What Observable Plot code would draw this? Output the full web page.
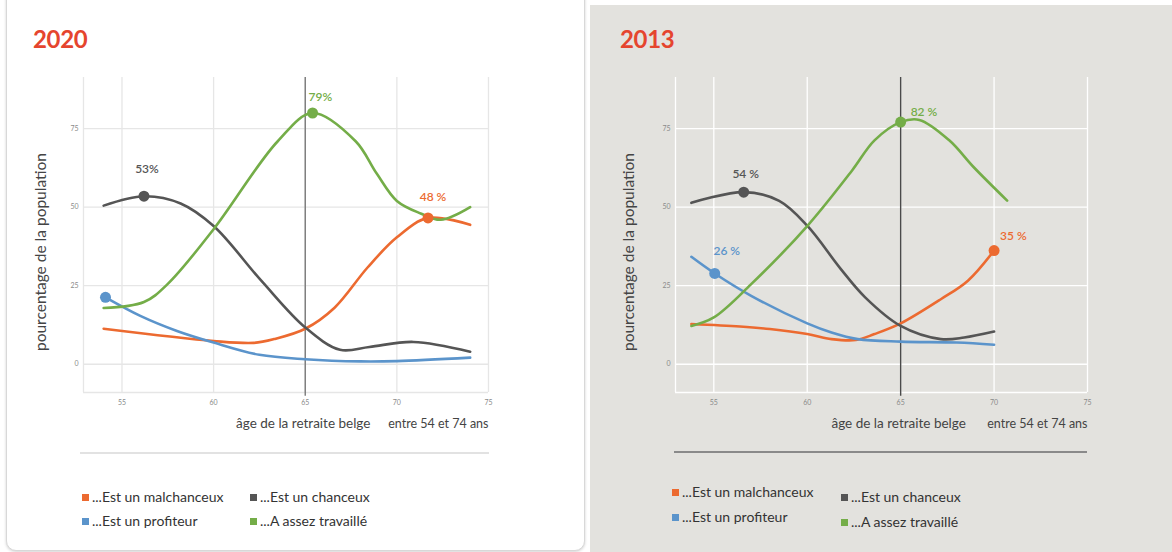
<!DOCTYPE html>
<html><head><meta charset="utf-8">
<script src="https://cdn.jsdelivr.net/npm/d3@7"></script>
<script src="https://cdn.jsdelivr.net/npm/@observablehq/plot@0.6"></script>
<style>
html,body{margin:0;padding:0;background:#fff;}
body{width:1172px;height:552px;position:relative;overflow:hidden;font-family:Lato,"Open Sans",sans-serif;}
.card{position:absolute;left:6px;top:-12px;width:577px;height:561px;border:1px solid #d8d8d8;border-radius:10px;box-shadow:0 1px 3px rgba(0,0,0,0.18);background:#fff;}
.gray{position:absolute;left:590px;top:5px;width:582px;height:547px;background:#e3e2de;}
.title{position:absolute;font-size:24px;font-weight:700;color:#e5452e;letter-spacing:-0.3px;}
.plotbox{position:absolute;top:60px;}
.sep{position:absolute;height:0;}
.leg{position:absolute;font-size:14px;color:#333;white-space:nowrap;}
.leg i{display:inline-block;width:7px;height:7px;margin-right:3px;vertical-align:1px;}
</style></head>
<body>
<div class="card"></div>
<div class="gray"></div>
<div id="root"></div>
<script>
// ---- series names & colours ----
const seriesNames = ["...Est un malchanceux", "...Est un chanceux", "...Est un profiteur", "...A assez travaillé"];
const seriesColors = ["#ec6a30", "#555555", "#5b94cb", "#74ad48"];
const xTicks = [55, 60, 65, 70, 75];
const yTicks = [0, 25, 50, 75];
const retirementAge = 65;
const xAxisLabel = "âge de la retraite belge";
const xRangeLabel = "entre 54 et 74 ans";
const yAxisLabel = "pourcentage de la population";

// ---- 2020 ----
const malch2020Age = [54, 60, 62.2, 63.3, 65, 66.6, 68.4, 70, 71.7, 74];
const malch2020Val = [11.3, 7.4, 6.8, 8, 11.3, 18, 30.8, 40.4, 46.6, 44.4];
const chanc2020Age = [54, 56.2, 58.2, 60, 62.6, 65, 66.9, 68.5, 70.9, 74];
const chanc2020Val = [50.5, 53.5, 51.2, 44, 26.6, 11.7, 4.6, 5.5, 7.1, 4];
const prof2020Age = [54.1, 56, 58, 60, 62.5, 65, 68, 70, 74];
const prof2020Val = [21.3, 15.4, 10.6, 6.9, 3, 1.6, 0.9, 1, 2.1];
const trav2020Age = [54, 56.2, 57.5, 60, 63.5, 65.4, 67.75, 68.9, 70, 71.3, 72.4, 74];
const trav2020Val = [17.9, 19.8, 25.6, 43, 71, 80, 71, 60.7, 52, 48, 46, 50];
const hl2020Age = [71.7, 56.2, 54.1, 65.4];
const hl2020Val = [46.6, 53.5, 21.3, 80];
const hl2020Text = ["48 %", "53%", "", "79%"];

// ---- 2013 ----
const malch2013Age = [53.8, 56.4, 58, 60, 61.3, 62.6, 63.6, 65, 67.15, 68.6, 70];
const malch2013Val = [12.8, 12, 11.2, 9.6, 8, 7.7, 9.6, 13, 20.7, 26.6, 36.2];
const chanc2013Age = [53.8, 56.6, 58.5, 60, 61.8, 63.1, 65, 67.15, 68.4, 70];
const chanc2013Val = [51.4, 54.8, 52, 44.1, 30.3, 21.3, 12.2, 8, 8.5, 10.4];
const prof2013Age = [53.8, 55.05, 57, 60, 61.3, 62.7, 65, 68, 70];
const prof2013Val = [34.2, 28.9, 21.8, 13, 10.1, 8, 7.2, 6.9, 6.2];
const trav2013Age = [53.8, 55, 57, 60, 62.4, 63.6, 65, 66, 67.6, 68.9, 70.7];
const trav2013Val = [12.2, 14.9, 25.5, 44, 61.7, 71.3, 77.1, 77.8, 71.3, 62.8, 52.1];
const hl2013Age = [70, 56.6, 55.05, 65];
const hl2013Val = [36.2, 54.8, 28.9, 77.1];
const hl2013Text = ["35 %", "54 %", "26 %", "82 %"];

// label offsets (style, px)
const off2020 = [[5, -21, "middle"], [3, -27, "middle"], [0, 0, "middle"], [-4, -16, "start"]];
const off2013 = [[6, -14, "start"], [2, -18, "middle"], [12, -22, "middle"], [10, -10, "start"]];

function buildRows(ages, vals) {
  const rows = [];
  ages.forEach((a, s) => a.forEach((x, i) => rows.push({x, y: vals[s][i], s})));
  return rows;
}

function panel(cfg) {
  const rows = buildRows(cfg.ages, cfg.vals);
  const hl = cfg.hlAge.map((x, i) => ({x, y: cfg.hlVal[i], s: i, t: cfg.hlText[i]}));
  const W = cfg.width, H = 385, mt = 17, mb = 53;
  const textMarks = hl.filter(d => d.t).map(d => {
    const o = cfg.off[d.s];
    return Plot.text([d], {x: "x", y: "y", text: "t", fill: seriesColors[d.s], fontSize: 12, fontWeight: 600, dx: o[0], dy: o[1], textAnchor: o[2]});
  });
  const chart = Plot.plot({
    width: W, height: H, marginLeft: cfg.ml, marginRight: cfg.mr, marginTop: mt, marginBottom: mb,
    style: {background: "transparent", fontFamily: "Lato, 'Open Sans', sans-serif", overflow: "visible"},
    x: {domain: [cfg.xMin, 75]},
    y: {domain: [-9, 91.3]},
    marks: [
      Plot.ruleX(xTicks, {stroke: cfg.grid, strokeWidth: 1.3}),
      Plot.ruleY(yTicks, {stroke: cfg.grid, strokeWidth: 1.3}),
      Plot.ruleX([cfg.xMin], {stroke: cfg.grid, strokeWidth: 1.3}),
      Plot.ruleY([-9], {stroke: cfg.grid, strokeWidth: 1.3}),
      Plot.ruleX([retirementAge], {y1: -10.2, y2: 91.3, stroke: cfg.vline, strokeWidth: 1.4}),
      Plot.line(rows, {x: "x", y: "y", z: "s", stroke: d => seriesColors[d.s], strokeWidth: 2.6, curve: "catmull-rom"}),
      Plot.dot(hl, {x: "x", y: "y", r: 5.5, fill: d => seriesColors[d.s], stroke: "none"}),
      ...textMarks,
      Plot.axisX(xTicks, {tickSize: 0, tickPadding: 8, fontSize: 7, fill: "#8a8a8a", label: null, tickFormat: d => d}),
      Plot.axisY(yTicks, {tickSize: 0, tickPadding: 5, fontSize: 7, fill: "#8a8a8a", label: null}),
      Plot.text([yAxisLabel], {frameAnchor: "left", textAnchor: "middle", rotate: -90, dx: cfg.ylx, dy: 17, fontSize: 15.5, fill: "#444"}),
      Plot.text([xAxisLabel], {x: retirementAge, frameAnchor: "bottom", dy: 35, dx: -2, fontSize: 13.5, fill: "#444", textAnchor: "middle"}),
      Plot.text([xRangeLabel], {x: 75, frameAnchor: "bottom", dy: 35, fontSize: 12.5, fill: "#444", textAnchor: "end"})
    ]
  });
  const box = document.createElement("div");
  box.className = "plotbox";
  box.style.left = cfg.left + "px";
  box.appendChild(chart);
  document.body.appendChild(box);

  const t = document.createElement("div");
  t.className = "title"; t.textContent = cfg.title;
  t.style.left = cfg.titleX + "px"; t.style.top = "24px";
  document.body.appendChild(t);

  const sep = document.createElement("div");
  sep.className = "sep";
  sep.style.left = cfg.sep[0] + "px"; sep.style.width = (cfg.sep[1] - cfg.sep[0]) + "px";
  sep.style.top = cfg.sep[2] + "px"; sep.style.borderTop = "2px solid " + cfg.sepColor;
  document.body.appendChild(sep);

  seriesNames.forEach((n, i) => {
    const p = cfg.legend[i];
    const d = document.createElement("div");
    d.className = "leg";
    d.style.left = p[0] + "px"; d.style.top = (p[1] - 10) + "px";
    d.innerHTML = `<i style="background:${seriesColors[i]}"></i>${n}`;
    document.body.appendChild(d);
  });
}

panel({
  title: "2020", titleX: 33, left: 0, width: 590, ml: 83, mr: 102, xMin: 52.9,
  ages: [malch2020Age, chanc2020Age, prof2020Age, trav2020Age],
  vals: [malch2020Val, chanc2020Val, prof2020Val, trav2020Val],
  hlAge: hl2020Age, hlVal: hl2020Val, hlText: hl2020Text, off: off2020,
  grid: "#e6e6e6", vline: "#7a7a7a", ylx: -42,
  sep: [80, 489, 452], sepColor: "#e2e2e2",
  legend: [[82, 498], [250, 498], [82, 522], [250, 522]]
});
panel({
  title: "2013", titleX: 620, left: 590, width: 582, ml: 85, mr: 85, xMin: 52.95,
  ages: [malch2013Age, chanc2013Age, prof2013Age, trav2013Age],
  vals: [malch2013Val, chanc2013Val, prof2013Val, trav2013Val],
  hlAge: hl2013Age, hlVal: hl2013Val, hlText: hl2013Text, off: off2013,
  grid: "#ffffff", vline: "#4a4a4a", ylx: -46,
  sep: [674, 1087, 451], sepColor: "#8a8a8a",
  legend: [[672, 493], [841, 498], [672, 518], [841, 523]]
});
</script>
</body></html>
